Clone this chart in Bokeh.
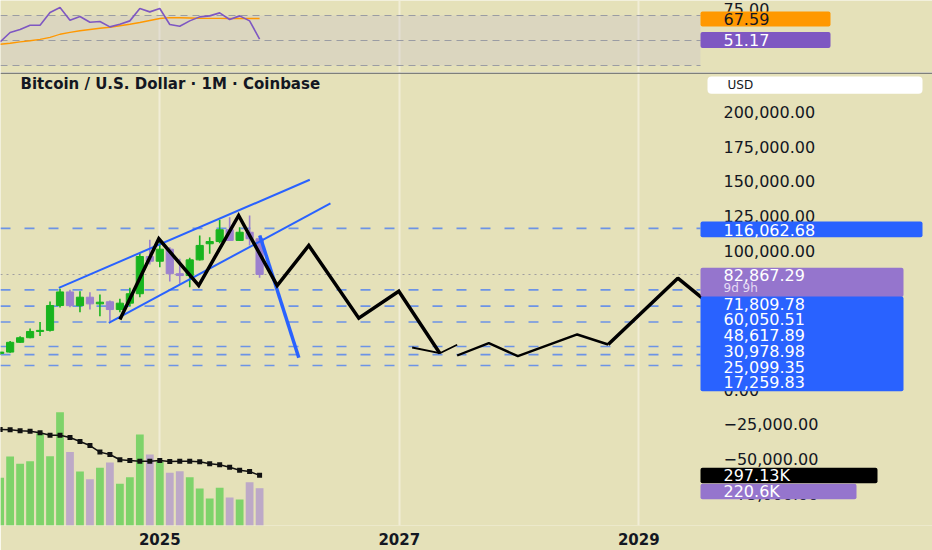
from bokeh.plotting import figure
from bokeh.layouts import column
from bokeh.models import Range1d, FixedTicker, BoxAnnotation, Label, Grid, ColumnDataSource
from bokeh.embed import file_html
from bokeh.resources import INLINE

# ---------------- data ----------------
months = ["2023-09", "2023-10", "2023-11", "2023-12", "2024-01", "2024-02", "2024-03", "2024-04",
          "2024-05", "2024-06", "2024-07", "2024-08", "2024-09", "2024-10", "2024-11", "2024-12",
          "2025-01", "2025-02", "2025-03", "2025-04", "2025-05", "2025-06", "2025-07", "2025-08",
          "2025-09", "2025-10", "2025-11"]
opens = [25950, 26960, 34000, 37300, 41800, 42600, 60500, 70300, 60400, 66500, 61700, 63200,
         57600, 62200, 69000, 95800, 92400, 101100, 83400, 82100, 93400, 105000, 106600,
         115100, 107400, 113300, 108600]
highs = [27450, 35000, 38400, 44000, 48600, 63400, 72600, 71800, 70800, 70100, 68400, 64100,
         65300, 73300, 98200, 107900, 108600, 102500, 94200, 94900, 111000, 109700, 122300,
         124100, 116900, 125400, 111000]
lows = [24900, 26550, 33600, 37000, 38500, 41800, 59000, 59300, 55700, 57600, 52800, 49200,
        55700, 60000, 66500, 90000, 88100, 77800, 76200, 73700, 93000, 97800, 105400,
        106900, 106900, 103800, 80500]
closes = [26960, 34000, 37300, 41800, 42600, 60500, 70300, 60400, 66500, 61700, 62900, 57600,
          62200, 69000, 95800, 92400, 101100, 83400, 82100, 93400, 103800, 106600, 115100,
          107400, 113300, 108600, 82867.29]
volume_k = [282, 408, 365, 380, 546, 410, 670, 434, 319, 274, 341, 373, 247, 286, 538, 420,
            378, 312, 321, 286, 219, 160, 223, 166, 154, 256, 220.6]
volume_ma_k = [568, 566, 560, 558, 548, 534, 534, 520, 497, 473, 434, 420, 389, 384, 380, 380,
               384, 379, 380, 380, 377, 365, 359, 345, 327, 319, 297.13]
rsi_values = [48.9, 56.4, 58.8, 62.2, 62.2, 72.4, 76.4, 66.2, 69.2, 64.6, 65.2, 60.9, 63.0, 65.7,
              75.6, 72.9, 75.6, 62.8, 61.4, 65.7, 68.9, 69.7, 72.1, 66.8, 69.7, 65.7, 51.17]
rsi_ma_values = [47.0, 47.8, 48.9, 49.8, 50.9, 52.5, 55.0, 56.5, 57.8, 58.8, 59.8, 60.6, 61.8, 63.0,
                 64.4, 66.0, 67.6, 68.3, 68.2, 68.0, 67.8, 67.7, 67.7, 67.6, 67.6, 67.6, 67.59]

year_ticks = [16, 40, 64]            # month index of Jan 2025 / 2027 / 2029
year_labels = ["2025", "2027", "2029"]
price_ticks = [-75000, -50000, -25000, 0, 25000, 50000, 75000, 100000, 125000, 150000, 175000, 200000]
price_tick_labels = ["\u221275,000.00", "\u221250,000.00", "\u221225,000.00", "0.00", "25,000.00",
                     "50,000.00", "75,000.00", "100,000.00", "125,000.00", "150,000.00",
                     "175,000.00", "200,000.00"]
rsi_ticks = [50, 75]
rsi_tick_labels = ["50.00", "75.00"]
rsi_levels = [30, 50, 70]

levels = [116062.68, 71809.78, 60050.51, 48617.89, 30978.98, 25099.35, 17259.83]
countdown = "9d 9h"

# drawings (month index, price)
upper_x = [5.88, 31.03];  upper_p = [73275, 151089]
lower_x = [10.89, 33.1];  lower_p = [48057, 134013]
drop_x = [26.02, 29.93];  drop_p = [110957, 22840]
zig_x = [12.0, 15.9, 19.9, 23.9, 27.76, 30.93, 35.94, 39.95, 44.06]
zig_p = [50435, 108580, 74932, 125367, 74932, 103752, 51372, 70825, 26154]
thin1_x = [41.29, 44.06, 45.8];  thin1_p = [30261, 26154, 32206]
thin2_x = [45.8, 48.97, 51.88, 57.83, 60.93];  thin2_p = [24497, 33359, 23993, 39627, 32422]
last_x = [60.93, 67.91, 70.7];  last_p = [32422, 80192, 63800]

# ---------------- styling ----------------
BG = "#E5E1B9"
GREEN = "#18B41E"
PURPLE = "#9C80CE"
VGREEN = "#7ED36A"
VPURPLE = "#BDA9C7"
BLUE = "#2962FF"
TXT = "#131722"
FONT = "DejaVu Sans"
W = 932

# pixel <-> value helpers for layout positions
PXM = 9.979           # pixels per month
X0_PX, X0_IDX = 159.3, 16
def px_x(px): return X0_IDX + (px - X0_PX) / PXM
def px_price(py): return (389.0 - py) * 720.46
def px_vol(py): return (525.0 - py) * 5914.0
def px_rsi(py): return 70.0 + (15.0 - py) / 1.25

PANE_L, PANE_R = px_x(0), px_x(700)     # chart pane; the rest is the price scale
idx = list(range(len(months)))


def style_price_axis(ax, ticks, labels):
    ax.ticker = FixedTicker(ticks=ticks)
    ax.major_label_overrides = dict(zip(ticks, labels))
    ax.axis_line_color = None
    ax.major_tick_line_color = None
    ax.minor_tick_line_color = None
    ax.major_tick_in = 0
    ax.major_tick_out = 0
    ax.major_label_standoff = 723 - W
    ax.major_label_text_font = FONT
    ax.major_label_text_font_size = "16px"
    ax.major_label_text_color = TXT


def box(fig, conv, l, r, t, b, color, radius=0):
    fig.add_layout(BoxAnnotation(left=px_x(l), right=px_x(r), top=conv(t), bottom=conv(b),
                                 fill_color=color, fill_alpha=1, line_color=None,
                                 border_radius=radius, level="annotation"))


def tag(fig, conv, x, y, text, color, size="16px", style="normal"):
    fig.add_layout(Label(x=px_x(x), y=conv(y), text=text, text_color=color, text_font=FONT,
                         text_font_size=size, text_font_style=style,
                         text_baseline="middle", text_align="left"))


# ---------------- RSI pane ----------------
rsi = figure(frame_width=W, frame_height=72, min_border_left=0, min_border_right=0,
             min_border_top=0, min_border_bottom=0,
             x_range=Range1d(px_x(0), px_x(W)), y_range=Range1d(px_rsi(72), px_rsi(0)),
             y_axis_location="right", x_axis_location=None, toolbar_location=None,
             output_backend="svg", background_fill_color=BG, border_fill_color=BG,
             outline_line_color=None)
rsi.xgrid.visible = False
rsi.ygrid.visible = False
rsi.add_layout(Grid(dimension=0, ticker=FixedTicker(ticks=year_ticks),
                    grid_line_color="#F1EDD6", grid_line_width=2))
rsi.add_layout(BoxAnnotation(left=PANE_L, right=PANE_R, bottom=30, top=70, fill_color="#C8C4CC",
                             fill_alpha=0.35, line_color=None, level="underlay"))
rsi.segment(x0=[PANE_L] * 3, x1=[PANE_R] * 3, y0=rsi_levels, y1=rsi_levels,
            line_color="#9A9CA3", line_dash="7 5", line_width=1)
rsi.line(idx, rsi_ma_values, line_color="#FF9800", line_width=1.3)
rsi.line(idx, rsi_values, line_color="#7E57C2", line_width=1.6)
style_price_axis(rsi.yaxis, rsi_ticks, rsi_tick_labels)

box(rsi, px_rsi, 700, 830, 11, 26, "#FF9800", 2)
tag(rsi, px_rsi, 723, 18.5, f"{rsi_ma_values[-1]:.2f}", "#131722")
box(rsi, px_rsi, 700, 830, 31.5, 47.5, "#7E57C2", 2)
tag(rsi, px_rsi, 723, 39.5, f"{rsi_values[-1]:.2f}", "#FFFFFF")

# ---------------- main price pane ----------------
main = figure(frame_width=W, frame_height=453, min_border_left=0, min_border_right=0,
              min_border_top=0, min_border_bottom=25,
              x_range=rsi.x_range, y_range=Range1d(px_price(525), px_price(72)),
              y_axis_location="right", toolbar_location=None, output_backend="svg",
              background_fill_color=BG, border_fill_color=BG, outline_line_color=None)
main.extra_y_ranges = {"vol": Range1d(px_vol(525), px_vol(72))}
main.ygrid.visible = False
main.xgrid.ticker = FixedTicker(ticks=year_ticks)
main.xgrid.grid_line_color = "#F1EDD6"
main.xgrid.grid_line_width = 2

main.xaxis.ticker = FixedTicker(ticks=year_ticks)
main.xaxis.major_label_overrides = dict(zip(year_ticks, year_labels))
main.xaxis.axis_line_color = None
main.xaxis.major_tick_line_color = None
main.xaxis.minor_tick_line_color = None
main.xaxis.major_tick_in = 0
main.xaxis.major_tick_out = 0
main.xaxis.major_label_standoff = 7
main.xaxis.major_label_text_font = FONT
main.xaxis.major_label_text_font_size = "15px"
main.xaxis.major_label_text_font_style = "bold"
main.xaxis.major_label_text_color = TXT

style_price_axis(main.yaxis, price_ticks, price_tick_labels)

# horizontal levels (within the chart pane)
n = len(levels)
main.segment(x0=[PANE_L] * n, x1=[PANE_R] * n, y0=levels, y1=levels,
             line_color="#6C93E6", line_dash="10 14", line_width=1.6)
main.segment(x0=[PANE_L], x1=[PANE_R], y0=[closes[-1]], y1=[closes[-1]],
             line_color="#A09EA0", line_dash="2 4", line_width=1.2)

# volume
inc = [c >= o for o, c in zip(opens, closes)]
vsrc = ColumnDataSource(dict(x=idx, v=[v * 1000 for v in volume_k],
                             c=[VGREEN if i else VPURPLE for i in inc]))
main.vbar(x="x", top="v", bottom=0, width=0.78, fill_color="c", line_color=None,
          source=vsrc, y_range_name="vol")
vma = [v * 1000 for v in volume_ma_k]
main.line(idx, vma, line_color="#111111", line_width=1.5, y_range_name="vol")
main.scatter(idx, vma, marker="square", size=5, fill_color="#111111", line_color=None,
             y_range_name="vol")

# candles
csrc = ColumnDataSource(dict(x=idx, hi=highs, lo=lows,
                             top=[max(o, c) for o, c in zip(opens, closes)],
                             bot=[min(o, c) for o, c in zip(opens, closes)],
                             c=[GREEN if i else PURPLE for i in inc]))
main.segment(x0="x", y0="lo", x1="x", y1="hi", line_color="c", line_width=1.6, source=csrc)
main.vbar(x="x", top="top", bottom="bot", width=0.72, fill_color="c", line_color="c",
          line_width=1, source=csrc)

# drawings
main.line(upper_x, upper_p, line_color=BLUE, line_width=2)
main.line(lower_x, lower_p, line_color=BLUE, line_width=2)
main.line(drop_x, drop_p, line_color=BLUE, line_width=3.5)
main.line(zig_x, zig_p, line_color="#000000", line_width=3.5, line_join="miter")
main.line(thin1_x, thin1_p, line_color="#000000", line_width=1.8)
main.line(thin2_x, thin2_p, line_color="#000000", line_width=2.4)
main.line(last_x, last_p, line_color="#000000", line_width=3.5)

# pane separator
main.add_layout(BoxAnnotation(top=px_price(72), bottom=px_price(73.3), fill_color="#5B5E66",
                              fill_alpha=1, line_color=None, level="annotation"))

# title
tag(main, px_price, 20, 83, "Bitcoin / U.S. Dollar \u00b7 1M \u00b7 Coinbase", TXT, "15px", "bold")

# right-side price tags
box(main, px_price, 707, 922, 76, 93.3, "#FFFFFF", 4)
tag(main, px_price, 727, 84.8, "USD", TXT, "12px")

box(main, px_price, 700, 922, 221, 236.7, BLUE, 2)
tag(main, px_price, 723, 229, f"{levels[0]:,.2f}", "#FFFFFF")

box(main, px_price, 700, 903, 267.3, 296.5, "#9575CD", 2)
tag(main, px_price, 723, 274.5, f"{closes[-1]:,.2f}", "#FFFFFF")
tag(main, px_price, 723, 287.5, countdown, "#E4DAF4", "12px")

box(main, px_price, 700, 903, 296, 390.7, BLUE, 2)
for k, lv in enumerate(levels[1:]):
    tag(main, px_price, 723, 303 + k * 15.75, f"{lv:,.2f}", "#FFFFFF")

box(main, px_price, 700, 877, 467.3, 482.7, "#000000", 2)
tag(main, px_price, 723, 475.2, f"{volume_ma_k[-1]:.2f}K", "#FFFFFF")
box(main, px_price, 700, 856, 483.3, 498.7, "#9575CD", 2)
tag(main, px_price, 723, 491.2, f"{volume_k[-1]:.1f}K", "#FFFFFF")

layout = column(rsi, main, spacing=0)
open("out.html", "w").write(file_html(layout, INLINE))
